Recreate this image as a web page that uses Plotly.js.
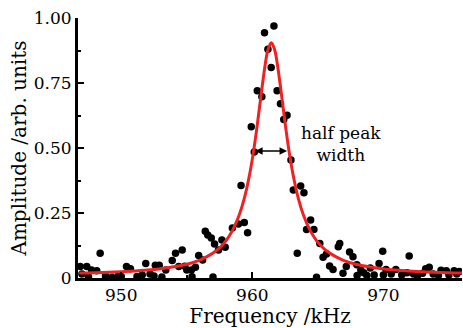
<!DOCTYPE html>
<html><head><meta charset="utf-8">
<script src="https://cdn.plot.ly/plotly-3.0.1.min.js"></script>
<style>html,body{margin:0;padding:0;background:#fff}#c{width:463px;height:328px}</style>
</head><body><div id="c"></div>
<script>
// measured data points (frequency kHz, amplitude arb. units)
var dataX = [960.93,961.65,961.19,961.44,960.38,960.73,961.89,962.15,962.65,962.40,959.92,960.15,962.95,
959.14,959.39,959.64,958.94,958.48,957.68,957.93,957.42,957.12,956.87,956.41,956.6,955.91,956.21,955.66,955.35,955.0,954.85,954.65,954.14,953.89,954.39,953.4,952.9,952.6,951.87,950.7,950.4,952.2,948.39,946.87,947.37,947.73,948.13,947.0,
963.13,963.69,963.94,964.45,964.14,964.7,963.43,965.15,965.4,965.66,966.56,966.67,965.9,966.16,967.42,967.68,967.17,966.92,967.98,968.28,968.74,969.95,971.97,969.67,969.0,970.2,970.95,973.23,973.5,974.4,974.8,975.4,975.8,
947.5,948.8,949.3,949.8,951.2,951.6,953.1,952.5,955.4,964.9,968.0,969.3,970.6,971.4,971.8,972.3,972.6,973.0,973.8,974.2,975.0,975.6,970.0,968.5,957.0,950.0];
var dataY = [0.943,0.969,0.88,0.81,0.72,0.697,0.72,0.67,0.626,0.61,0.582,0.485,0.454,
0.356,0.213,0.174,0.208,0.192,0.146,0.118,0.108,0.131,0.154,0.18,0.165,0.087,0.069,0.041,0.031,0.031,0.045,0.108,0.095,0.067,0.044,0.031,0.049,0.049,0.056,0.036,0.044,0.015,0.095,0.044,0.044,0.031,0.028,0.015,
0.338,0.354,0.328,0.223,0.187,0.187,0.095,0.133,0.08,0.092,0.12,0.133,0.046,0.033,0.1,0.082,0.044,0.018,0.051,0.031,0.01,0.103,0.085,0.056,0.038,0.033,0.033,0.036,0.041,0.03,0.028,0.028,0.025,
0.005,0.008,0.003,0.01,0.006,0.012,0.004,0.008,0.005,0.003,0.01,0.012,0.015,0.012,0.02,0.015,0.008,0.018,0.015,0.01,0.012,0.015,0.012,0.02,0.004,0.006];
// fitted curve
var fitX = [946.8,948,950,952,953,954,955,956,956.5,957,957.5,958,958.5,959,959.4,959.8,960.1,960.4,960.7,961.0,961.2,961.45,
961.7,961.9,962.2,962.5,962.8,963.1,963.5,963.9,964.4,964.9,965.4,965.9,966.4,966.9,967.9,968.9,969.9,970.9,972.9,974.9,976];
var fitY = [0.019,0.020,0.024,0.031,0.036,0.043,0.053,0.069,0.081,0.096,0.116,0.144,0.184,0.242,0.308,0.400,0.489,0.597,0.716,0.826,0.879,0.905,
0.879,0.826,0.716,0.597,0.489,0.400,0.308,0.242,0.184,0.144,0.116,0.096,0.081,0.069,0.053,0.043,0.036,0.031,0.024,0.020,0.019];
var yTicks = [0,0.25,0.5,0.75,1.0];
var yTickText = ['0','0.25','0.50','0.75','1.00'];
var xTicks = [950,960,970];

var F = 'DejaVu Serif, Liberation Serif, serif';
var traces = [
 {x:dataX,y:dataY,mode:'markers',type:'scatter',marker:{color:'#000',size:7.5},cliponaxis:true,hoverinfo:'none'},
 {x:fitX,y:fitY,mode:'lines',type:'scatter',line:{color:'#ee2222',width:3,shape:'spline'},hoverinfo:'none'}
];
var layout = {
 width:463,height:328,margin:{l:78,r:1,t:18,b:50},
 paper_bgcolor:'#fff',plot_bgcolor:'#fff',showlegend:false,
 font:{family:F,size:17,color:'#000'},
 xaxis:{range:[946.7,976],tickvals:xTicks,ticks:'inside',ticklen:6,tickwidth:2,tickcolor:'#000',
   showline:true,linewidth:3,linecolor:'#000',showgrid:false,zeroline:false,
   minor:{dtick:5,tick0:945,ticks:'inside',ticklen:3,tickwidth:2,tickcolor:'#000'},
   tickfont:{family:F,size:17},title:{text:'Frequency /kHz',font:{family:F,size:20},standoff:0}},
 yaxis:{range:[0,1.0],tickvals:yTicks,ticktext:yTickText,ticks:'inside',ticklen:6,tickwidth:2,tickcolor:'#000',
   showline:true,linewidth:3,linecolor:'#000',showgrid:false,zeroline:false,
   minor:{dtick:0.125,ticks:'inside',ticklen:3,tickwidth:2,tickcolor:'#000'},
   tickfont:{family:F,size:17},title:{text:'Amplitude /arb. units',font:{family:F,size:20},standoff:2}},
 annotations:[
  {x:962.65,y:0.488,ax:960.1,ay:0.488,axref:'x',ayref:'y',xref:'x',yref:'y',text:'',showarrow:true,
   arrowhead:2,startarrowhead:2,arrowside:'end+start',arrowsize:1,arrowwidth:1.5,arrowcolor:'#000'},
  {x:966.8,y:0.515,xref:'x',yref:'y',text:'half peak<br>width',showarrow:false,font:{family:F,size:17},align:'center'}
 ]
};
Plotly.newPlot('c',traces,layout,{staticPlot:true});
</script></body></html>
